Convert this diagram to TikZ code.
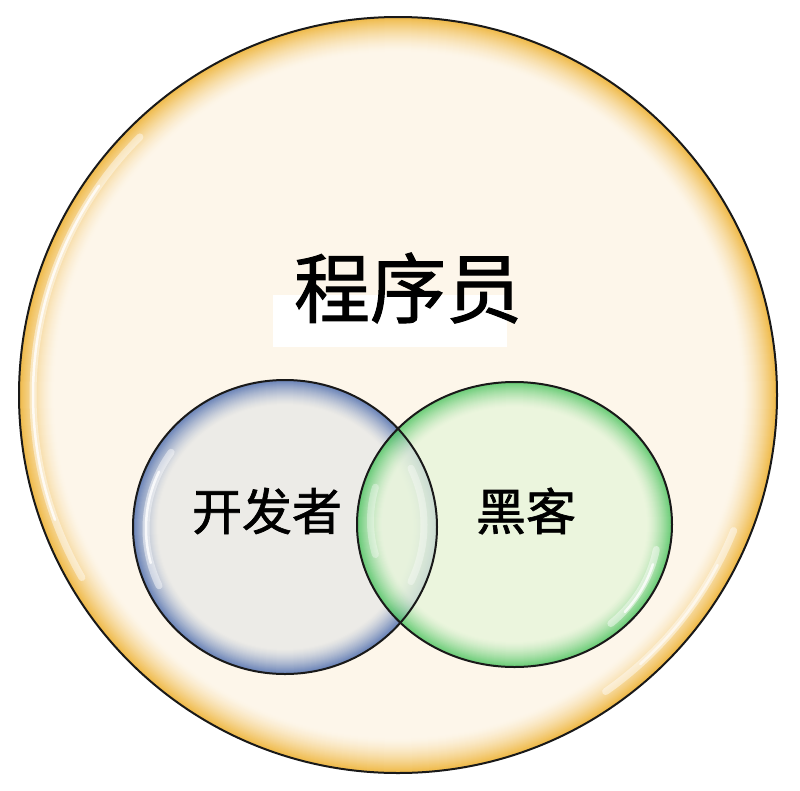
\documentclass[tikz,border=0pt]{standalone}
\usepackage{fontspec}
\newfontfamily\cjk[FakeBold=1.3]{Noto Sans CJK SC}
\definecolor{cream}{RGB}{253,246,234}
\definecolor{gold}{RGB}{240,188,78}
\definecolor{bluefill}{RGB}{236,235,231}
\definecolor{bluerim}{RGB}{112,136,186}
\definecolor{greenfill}{RGB}{230,245,218}
\definecolor{greenrim}{RGB}{74,196,94}
\tikzset{
  edgeline/.style={draw=black!90, line width=2pt},
  glint/.style={draw=white, line width=7pt, line cap=round, opacity=0.45},
  glintcore/.style={draw=white, line width=2.5pt, line cap=round, opacity=0.8},
  bigtext/.style={font=\cjk\fontsize{76}{80}\selectfont, inner sep=0pt},
  label/.style={font=\cjk\fontsize{50}{54}\selectfont, inner sep=0pt}
}
\begin{document}
\begin{tikzpicture}[x=1pt,y=-1pt]
\useasboundingbox (0,0) rectangle (800,790);
\fill[white] (0,0) rectangle (800,790);
\coordinate (O) at (398,395);
\coordinate (B) at (285,527);
\coordinate (G) at (514.5,524.5);
% outer circle
\fill[gold] (O) ellipse [x radius=379pt, y radius=378pt];
\foreach \i in {0,...,34}{
  \pgfmathsetmacro\p{100*(1-\i/34)^1.5}
  \fill[gold!\p!cream] (O) ellipse [x radius={(378-\i)*1pt}, y radius={(377-\i)*1pt}];
}
\draw[edgeline] (O) ellipse [x radius=379pt, y radius=378pt];
\draw[glint] (O) ++(210:365pt) arc[start angle=210, end angle=135, radius=365pt];
\draw[glintcore] (O) ++(200:365pt) arc[start angle=200, end angle=145, radius=365pt];
\draw[glint] (O) ++(-22:362pt) arc[start angle=-22, end angle=-55, radius=362pt];
\draw[glintcore, opacity=0.6] (O) ++(-28:362pt) arc[start angle=-28, end angle=-48, radius=362pt];
% blue circle
\fill[bluerim] (B) ellipse [x radius=152pt, y radius=147pt];
\foreach \i in {0,...,24}{
  \pgfmathsetmacro\p{100*(1-\i/24)^1.4}
  \fill[bluerim!\p!bluefill] (B) ellipse [x radius={(151-\i)*1pt}, y radius={(146-\i)*1pt}];
}
\draw[glint] (B) ++(205:139pt) arc[start angle=205, end angle=145, x radius=139pt, y radius=134pt];
\draw[glintcore] (B) ++(195:139pt) arc[start angle=195, end angle=155, x radius=139pt, y radius=134pt];
% green circle (semi transparent)
\begin{scope}[transparency group, opacity=0.78]
\fill[greenrim] (G) ellipse [x radius=157.5pt, y radius=142.5pt];
\foreach \i in {0,...,24}{
  \pgfmathsetmacro\p{100*(1-\i/24)^1.4}
  \fill[greenrim!\p!greenfill] (G) ellipse [x radius={(156.5-\i)*1pt}, y radius={(141.5-\i)*1pt}];
}
\end{scope}
\draw[glint] (G) ++(-10:144pt) arc[start angle=-10, end angle=-48, x radius=144pt, y radius=130pt];
\draw[glintcore] (G) ++(-16:144pt) arc[start angle=-16, end angle=-40, x radius=144pt, y radius=130pt];
\draw[glint, opacity=0.35] (B) ++(25:139pt) arc[start angle=25, end angle=-25, x radius=139pt, y radius=134pt];
\draw[glint, opacity=0.35] (G) ++(165:144pt) arc[start angle=165, end angle=195, x radius=144pt, y radius=130pt];
\draw[edgeline] (G) ellipse [x radius=157.5pt, y radius=142.5pt];
\draw[edgeline] (B) ellipse [x radius=152pt, y radius=147pt];
% title
\fill[white] (273,295) rectangle (507,347);
\node[bigtext] (prog) at (408,288) {程序员};
\node[label] (dev) at (267,511) {开发者};
\node[label] (hack) at (526,511) {黑客};
\end{tikzpicture}
\end{document}
